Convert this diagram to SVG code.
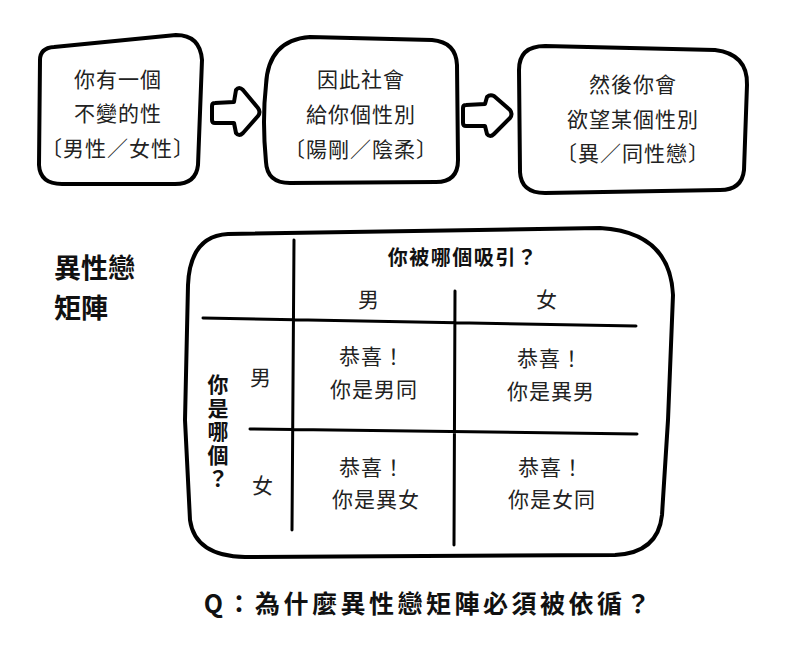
<svg xmlns="http://www.w3.org/2000/svg" width="788" height="650" viewBox="0 0 788 650">
<style>
.box{fill:#fff;stroke:#000;stroke-width:4;stroke-linejoin:round;stroke-linecap:round}
.arr{fill:#fff;stroke:#000;stroke-width:4;stroke-linejoin:round}
.grid{fill:none;stroke:#000;stroke-width:3;stroke-linecap:round}
.t{font-family:"Noto Sans CJK TC","Noto Sans CJK SC",sans-serif;font-size:21px;fill:#222;text-anchor:middle;dominant-baseline:central;letter-spacing:1px}
.b{font-family:"Noto Sans CJK TC","Noto Sans CJK SC",sans-serif;font-weight:700;fill:#111;dominant-baseline:central}
</style>
<rect width="788" height="650" fill="#fff"/>
<g id="connectors">
<path class="arr" d="M 215 103 L 234 102 L 236 90 Q 239 86 243 90 L 258 108 Q 261 112 258 116 L 243 133 Q 239 137 236 133 L 234 123 L 215 123 Q 212 123 212 120 L 212 106 Q 212 103 215 103 Z"/>
<path class="arr" d="M 466 105 L 485 104 L 487 97 Q 490 94 494 96 L 510 110 Q 513 114 510 118 L 494 134 Q 490 138 487 134 L 485 126 L 466 126 Q 463 126 463 123 L 463 108 Q 463 105 466 105 Z"/>
</g>
<g id="box1">
<path class="box" d="M 40 60 Q 40 48 54 47 L 176 35 Q 200 35 202 60 L 198 165 Q 196 184 175 184 L 62 184 Q 40 184 39 165 Z"/>
<text class="t" x="118" y="78">你有一個</text>
<text class="t" x="118" y="112">不變的性</text>
<text class="t" x="118" y="147">〔男性／女性〕</text>
</g>
<g id="box2">
<path class="box" d="M 266 85 Q 268 40 310 37 L 432 40 Q 456 42 457 65 L 458 160 Q 458 182 436 182 L 290 183 Q 267 183 266 162 Q 262 120 266 85 Z"/>
<text class="t" x="361" y="78">因此社會</text>
<text class="t" x="361" y="113">給你個性別</text>
<text class="t" x="361" y="148">〔陽剛／陰柔〕</text>
</g>
<g id="box3">
<path class="box" d="M 519 70 Q 519 46 545 46 L 715 50 Q 748 54 747 85 L 744 170 Q 742 190 720 190 L 545 193 Q 521 193 520 172 Z"/>
<text class="t" x="633" y="83">然後你會</text>
<text class="t" x="633" y="118">欲望某個性別</text>
<text class="t" x="633" y="152">〔異／同性戀〕</text>
</g>
<g id="title">
<text class="b" x="54" y="266" font-size="27">異性戀</text>
<text class="b" x="54" y="306" font-size="27">矩陣</text>
</g>
<g id="matrix">
<path class="box" d="M 188 285 Q 190 236 228 234 L 600 228 Q 670 232 673 295 L 668 420 L 662 515 Q 658 553 615 555 L 245 557 Q 195 556 190 520 L 185 420 Z"/>
<path class="grid" d="M 294 240 L 292 530 M 455 291 L 454 545 M 203 318 L 636 326 M 250 429 L 637 434"/>
<text class="b" x="463" y="256" font-size="20" text-anchor="middle" letter-spacing="1.5">你被哪個吸引？</text>
<text class="t" x="369" y="298">男</text>
<text class="t" x="547" y="298">女</text>
<text class="t" x="261" y="376">男</text>
<text class="t" x="263" y="484">女</text>
<text class="b" x="218" y="374" font-size="21" letter-spacing="2.5" writing-mode="vertical-rl" style="text-orientation:upright;dominant-baseline:auto">你是哪個？</text>
</g>
<g id="cell-mm">
<text class="t" x="372" y="355">恭喜！</text>
<text class="t" x="374" y="388">你是男同</text>
</g>
<g id="cell-mf">
<text class="t" x="550" y="357">恭喜！</text>
<text class="t" x="551" y="390">你是異男</text>
</g>
<g id="cell-fm">
<text class="t" x="372" y="466">恭喜！</text>
<text class="t" x="376" y="498">你是異女</text>
</g>
<g id="cell-ff">
<text class="t" x="551" y="466">恭喜！</text>
<text class="t" x="552" y="498">你是女同</text>
</g>
<g id="question">
<text class="b" x="429" y="602" font-size="25" text-anchor="middle" letter-spacing="3.5">Q：為什麼異性戀矩陣必須被依循？</text>
</g>
</svg>
